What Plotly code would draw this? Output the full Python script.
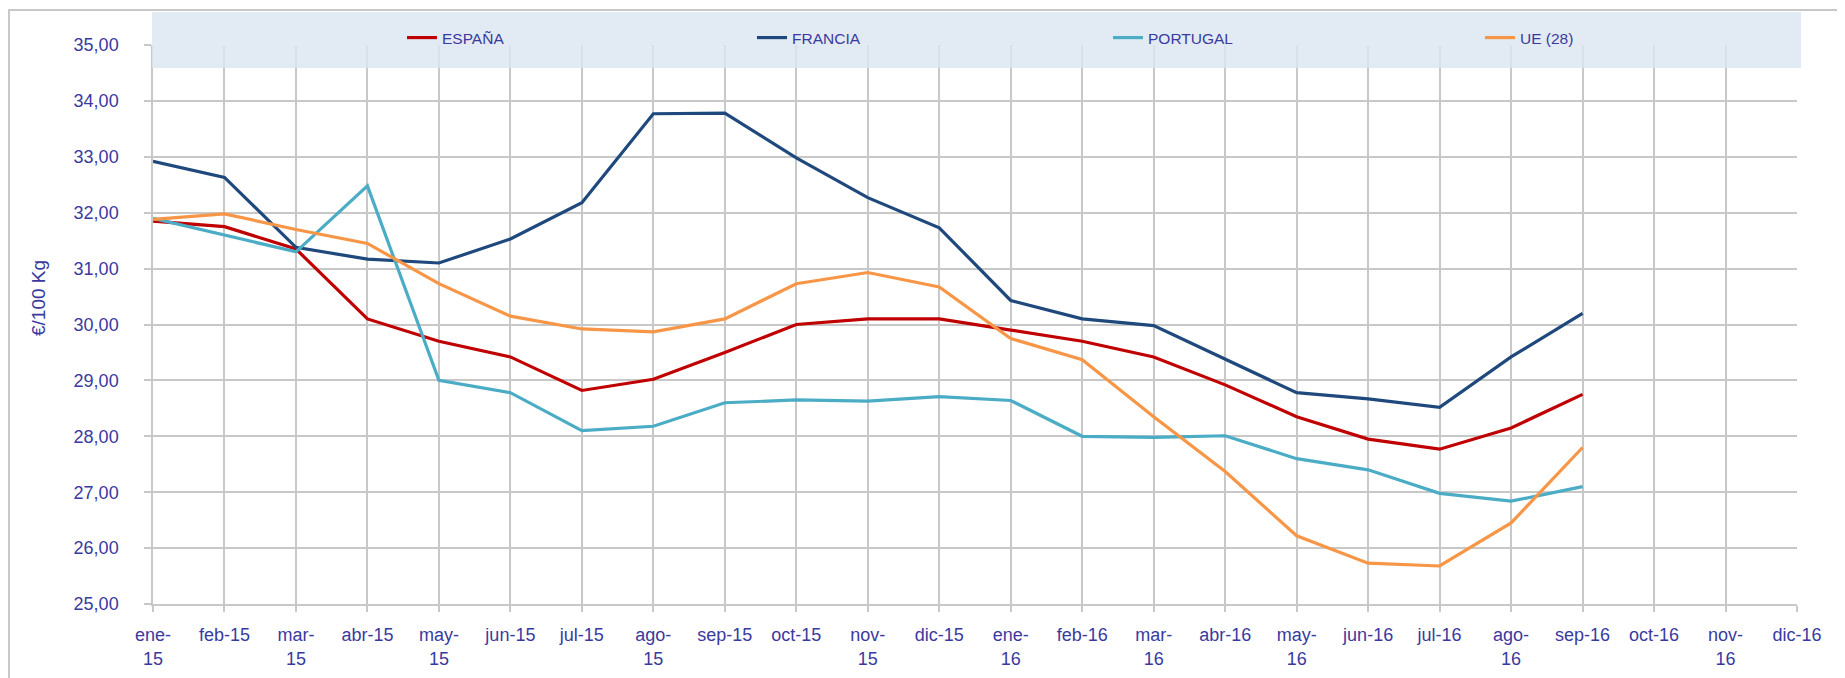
import plotly.graph_objects as go

months = ["ene-15", "feb-15", "mar-15", "abr-15", "may-15", "jun-15", "jul-15", "ago-15",
          "sep-15", "oct-15", "nov-15", "dic-15", "ene-16", "feb-16", "mar-16", "abr-16",
          "may-16", "jun-16", "jul-16", "ago-16", "sep-16", "oct-16", "nov-16", "dic-16"]
month_labels = ["ene-<br>15", "feb-15", "mar-<br>15", "abr-15", "may-<br>15", "jun-15", "jul-15",
                "ago-<br>15", "sep-15", "oct-15", "nov-<br>15", "dic-15", "ene-<br>16", "feb-16",
                "mar-<br>16", "abr-16", "may-<br>16", "jun-16", "jul-16", "ago-<br>16", "sep-16",
                "oct-16", "nov-<br>16", "dic-16"]

espana = [31.85, 31.75, 31.35, 30.10, 29.70, 29.42, 28.82, 29.02, 29.50, 30.00, 30.10, 30.10,
          29.90, 29.70, 29.42, 28.92, 28.35, 27.95, 27.77, 28.15, 28.75]
francia = [32.92, 32.63, 31.38, 31.17, 31.10, 31.53, 32.18, 33.77, 33.78, 32.98, 32.27, 31.73,
           30.43, 30.10, 29.98, 29.38, 28.78, 28.67, 28.52, 29.42, 30.20]
portugal = [31.90, 31.60, 31.30, 32.48, 29.00, 28.78, 28.10, 28.18, 28.60, 28.65, 28.63, 28.71,
            28.64, 28.00, 27.98, 28.01, 27.60, 27.40, 26.98, 26.84, 27.10]
ue28 = [31.88, 31.98, 31.70, 31.45, 30.73, 30.15, 29.92, 29.87, 30.10, 30.73, 30.93, 30.67,
        29.75, 29.37, 28.35, 27.37, 26.22, 25.73, 25.68, 26.45, 27.80]

series_names = ["ESPAÑA", "FRANCIA", "PORTUGAL", "UE (28)"]
series_values = [espana, francia, portugal, ue28]
colors = ["#C00000", "#1F497D", "#4BACC6", "#F79646"]
legend_ids = ["legend", "legend2", "legend3", "legend4"]

# page offset from default body margin
OFF = 8
W, H = 1845, 678
# desired page positions of plot area
PX_LEFT, PX_RIGHT, PX_TOP, PX_BOTTOM = 153, 1797, 45, 604
L = PX_LEFT - OFF
T = PX_TOP - OFF
R = W - (PX_RIGHT - OFF)
B = H - (PX_BOTTOM - OFF)
pw = W - L - R
ph = H - T - B

def px_to_paper_x(px):
    return (px - PX_LEFT) / pw

def px_to_paper_y(py):
    return (PX_BOTTOM - py) / ph

text_color = "#3A3A9E"
font_family = "Liberation Sans, Arial, sans-serif"

fig = go.Figure()
for name, vals, col, lg in zip(series_names, series_values, colors, legend_ids):
    fig.add_trace(go.Scatter(x=months[:len(vals)], y=vals, mode="lines", name=name,
                             line=dict(color=col, width=3.2), legend=lg))

legend_x_px = [402, 752, 1108, 1480]
layout_legends = {}
for lg, lx in zip(legend_ids, legend_x_px):
    layout_legends[lg] = dict(
        xref="container", yref="container",
        x=(lx - OFF) / W, y=(H - (38 - OFF)) / H, xanchor="left", yanchor="middle",
        orientation="h", bgcolor="rgba(0,0,0,0)",
        font=dict(family=font_family, size=15.5, color=text_color),
        itemwidth=30,
    )

fig.update_layout(
    width=W, height=H,
    margin=dict(l=L, r=R, t=T, b=B, pad=0, autoexpand=False),
    paper_bgcolor="white", plot_bgcolor="white",
    font=dict(family=font_family, size=18, color=text_color),
    showlegend=True,
    separators=",.",
    **layout_legends,
    xaxis=dict(
        type="category", categoryorder="array", categoryarray=months,
        tickmode="array", tickvals=months, ticktext=month_labels,
        range=[0, len(months) - 1], automargin=False,
        showgrid=True, gridcolor="#C8C8C8", gridwidth=1.5,
        showline=True, linecolor="#C8C8C8", linewidth=1.5,
        ticks="outside", ticklen=6, tickcolor="#C8C8C8", tickwidth=1.5,
        tickfont=dict(family=font_family, size=18, color=text_color),
        ticklabelstandoff=8,
        zeroline=False,
    ),
    yaxis=dict(
        range=[25, 35], dtick=1, tick0=25, automargin=False,
        tickformat=".2f",
        showgrid=True, gridcolor="#C8C8C8", gridwidth=1.5,
        showline=True, linecolor="#C8C8C8", linewidth=1.5,
        ticks="outside", ticklen=7, tickcolor="#C8C8C8", tickwidth=1.5,
        tickfont=dict(family=font_family, size=18, color=text_color),
        ticklabelstandoff=22,
        zeroline=False,
    ),
)

# legend band
fig.add_shape(type="rect", xref="paper", yref="paper",
              x0=px_to_paper_x(152), x1=px_to_paper_x(1801),
              y0=px_to_paper_y(68), y1=px_to_paper_y(12),
              fillcolor="rgba(220,230,242,0.82)", line=dict(width=0), layer="above")

# outer chart border
fig.add_shape(type="rect", xref="paper", yref="paper",
              x0=px_to_paper_x(9), x1=px_to_paper_x(1870),
              y0=px_to_paper_y(720), y1=px_to_paper_y(10),
              fillcolor="rgba(0,0,0,0)", line=dict(color="#C8C8C8", width=2), layer="below")

fig.add_annotation(text="€/100 Kg", xref="paper", yref="paper",
                   x=px_to_paper_x(38), y=px_to_paper_y(298), textangle=-90,
                   showarrow=False, xanchor="center", yanchor="middle",
                   font=dict(family=font_family, size=19, color=text_color))

fig.write_html("out.html")
